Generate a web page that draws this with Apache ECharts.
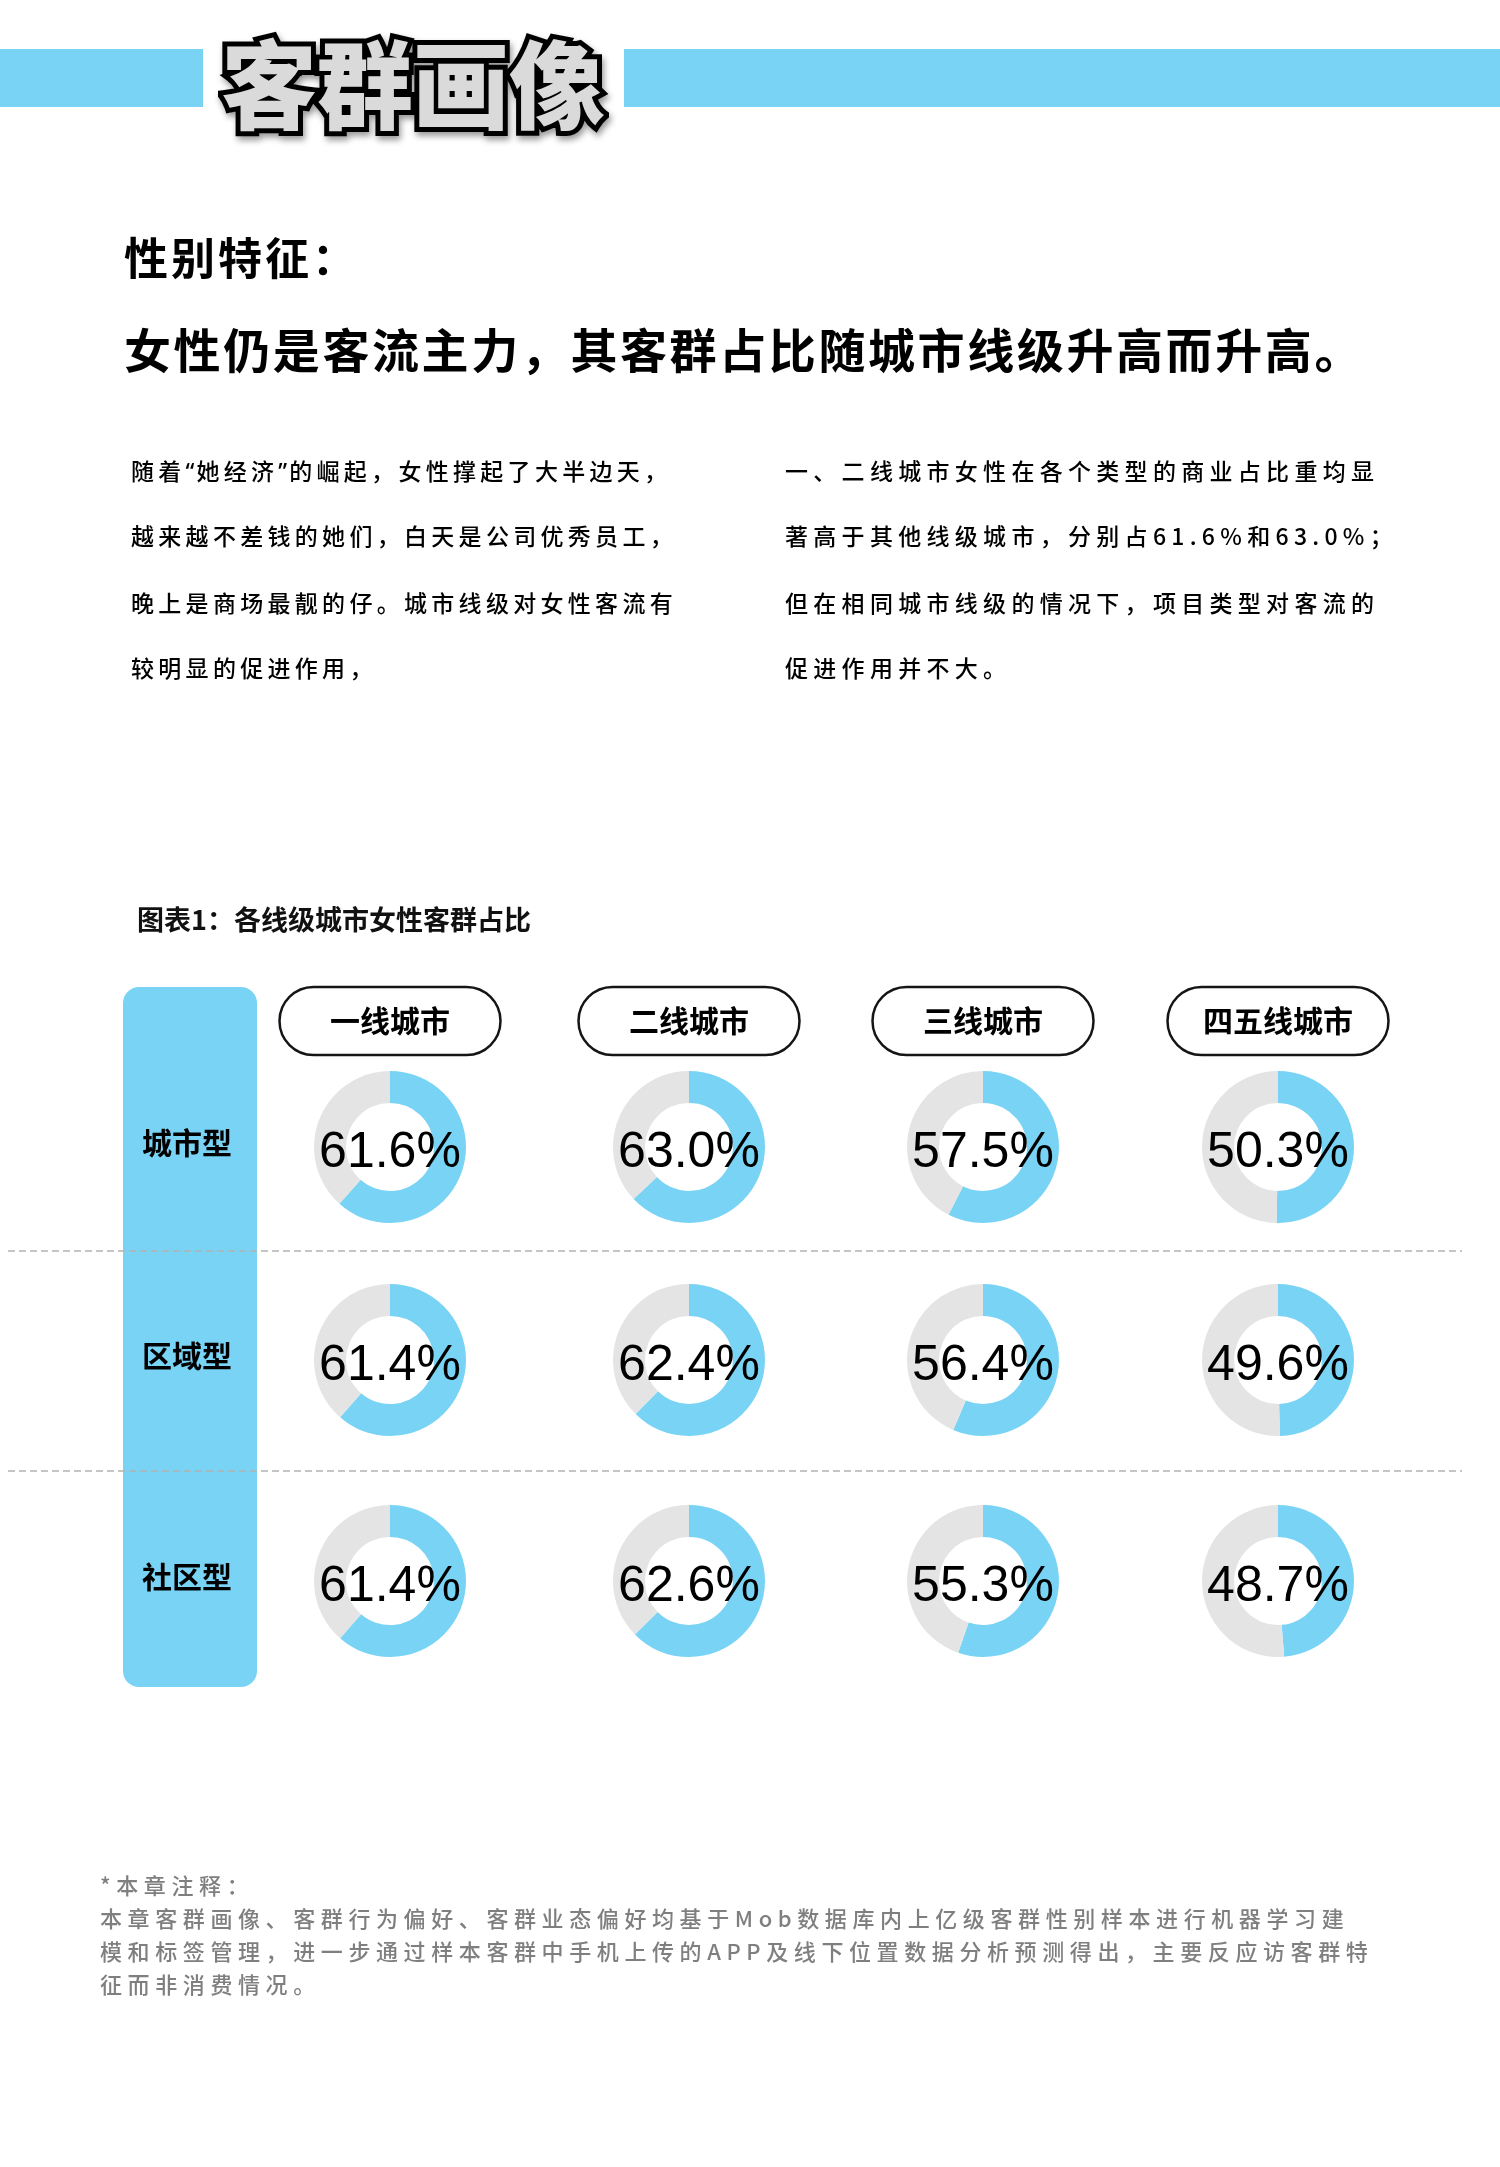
<!DOCTYPE html>
<html>
<head>
<meta charset="utf-8">
<script src="https://cdn.jsdelivr.net/npm/echarts@6/dist/echarts.min.js"></script>
<style>
html,body{margin:0;padding:0;background:#fff;}
#page{position:relative;width:1500px;height:2167px;overflow:hidden;background:#fff;}
#chart{position:absolute;left:0;top:0;width:1500px;height:2167px;z-index:1;}
.t{position:absolute;white-space:nowrap;font-family:"Noto Sans CJK SC","Noto Sans",sans-serif;z-index:2;}
.hdr{font-size:96px;line-height:96px;font-weight:900;left:221px;top:32px;}
.hdr.back{color:#000;-webkit-text-stroke:10px #000;filter:drop-shadow(2px 4px 3px rgba(0,0,0,0.4));}
.hdr.front{color:#dadada;}
.h1{font-size:44px;line-height:44px;font-weight:700;color:#000;letter-spacing:3px;left:124px;top:234px;}
.h2{font-size:47px;line-height:47px;font-weight:700;color:#000;letter-spacing:2.6px;left:124px;top:324px;}
.body{font-size:23px;line-height:23px;font-weight:500;color:#000;}
.bl{letter-spacing:4.3px;}
.br{letter-spacing:5.3px;}
.note{font-size:22px;line-height:22px;font-weight:500;color:#7f7f7f;letter-spacing:5.6px;left:100px;}
.q{font-family:"Noto Sans",sans-serif;letter-spacing:2px;}
</style>
</head>
<body>
<div id="page">
  <div id="chart"></div>
  <div class="t hdr back">客群画像</div>
  <div class="t hdr front">客群画像</div>
  <div class="t h1">性别特征：</div>
  <div class="t h2">女性仍是客流主力，其客群占比随城市线级升高而升高。</div>
  <div id="paras"></div>
  <div id="notes"></div>
</div>
<script>
// ---------- data ----------
const cities = ['一线城市', '二线城市', '三线城市', '四五线城市'];
const types = ['城市型', '区域型', '社区型'];
const cityType = [61.6, 63.0, 57.5, 50.3];
const regionType = [61.4, 62.4, 56.4, 49.6];
const communityType = [61.4, 62.6, 55.3, 48.7];
const chartTitle = '图表1：各线级城市女性客群占比';

const leftLines = [
  '随着“她经济”的崛起，女性撑起了大半边天，',
  '越来越不差钱的她们，白天是公司优秀员工，',
  '晚上是商场最靓的仔。城市线级对女性客流有',
  '较明显的促进作用，'
];
const rightLines = [
  '一、二线城市女性在各个类型的商业占比重均显',
  '著高于其他线级城市，分别占61.6%和63.0%；',
  '但在相同城市线级的情况下，项目类型对客流的',
  '促进作用并不大。'
];
const noteLines = [
  '*本章注释：',
  '本章客群画像、客群行为偏好、客群业态偏好均基于Mob数据库内上亿级客群性别样本进行机器学习建',
  '模和标签管理，进一步通过样本客群中手机上传的APP及线下位置数据分析预测得出，主要反应访客群特',
  '征而非消费情况。'
];

// ---------- layout ----------
const BLUE = '#79D3F5';
const GRAY = '#E4E4E4';
const colX = [390, 689, 983, 1278];
const rowY = [1147, 1360, 1581];
const paraTops = [459, 524, 591, 656];
const noteTops = [1873, 1906, 1939, 1972];

function esc(s) { return s.replace(/&/g, '&amp;').replace(/</g, '&lt;'); }
function markup(s) {
  return esc(s).replace(/([“”])/g, '<span class="q">$1</span>');
}
function addLine(parent, cls, s, left, top) {
  const d = document.createElement('div');
  d.className = 't ' + cls;
  d.innerHTML = markup(s);
  if (left !== null) d.style.left = left + 'px';
  d.style.top = top + 'px';
  parent.appendChild(d);
}
const paras = document.getElementById('paras');
leftLines.forEach((s, i) => addLine(paras, 'body bl', s, 131, paraTops[i]));
rightLines.forEach((s, i) => addLine(paras, 'body br', s, 785, paraTops[i]));
const notes = document.getElementById('notes');
noteLines.forEach((s, i) => addLine(notes, 'note', s, null, noteTops[i]));

// ---------- chart ----------
const chart = echarts.init(document.getElementById('chart'));
const rows = [cityType, regionType, communityType];
const series = [];
rows.forEach((vals, r) => {
  vals.forEach((v, c) => {
    series.push({
      type: 'pie',
      center: [colX[c], rowY[r]],
      radius: [44, 76],
      startAngle: 90,
      clockwise: true,
      silent: true,
      animation: false,
      avoidLabelOverlap: false,
      emphasis: { disabled: true },
      label: { show: false },
      labelLine: { show: false },
      data: [
        {
          value: v,
          name: types[r] + cities[c],
          itemStyle: { color: BLUE },
          label: {
            show: true,
            position: 'center',
            formatter: (p) => '{g|}\n{v|' + p.value.toFixed(1) + '%}',
            rich: {
              g: { height: 12, fontSize: 12 },
              v: { fontSize: 50, fontFamily: '"Liberation Sans", Arial, sans-serif', color: '#000' }
            }
          }
        },
        { value: +(100 - v).toFixed(1), name: '其他', itemStyle: { color: GRAY }, label: { show: false } }
      ]
    });
  });
});

const FONT = '"Noto Sans CJK SC", sans-serif';
const graphic = [
  { type: 'rect', z: 0, shape: { x: 0, y: 49, width: 203, height: 58 }, style: { fill: BLUE } },
  { type: 'rect', z: 0, shape: { x: 624, y: 49, width: 876, height: 58 }, style: { fill: BLUE } },
  { type: 'rect', z: 0, shape: { x: 123, y: 987, width: 134, height: 700, r: 16 }, style: { fill: BLUE } },
  { type: 'line', z: 1, shape: { x1: 8, y1: 1251, x2: 1462, y2: 1251 }, style: { stroke: '#b2b2b2', lineWidth: 1.5, lineDash: [7, 4] } },
  { type: 'line', z: 1, shape: { x1: 8, y1: 1471, x2: 1462, y2: 1471 }, style: { stroke: '#b2b2b2', lineWidth: 1.5, lineDash: [7, 4] } },
  { type: 'text', z: 2, style: { text: chartTitle, x: 137, y: 920, textVerticalAlign: 'middle', fontSize: 27, fontWeight: 'bold', fontFamily: FONT, fill: '#111' } }
];
cities.forEach((name, c) => {
  graphic.push({ type: 'rect', z: 2, shape: { x: colX[c] - 110.5, y: 987, width: 221, height: 68, r: 34 }, style: { fill: '#fff', stroke: '#151515', lineWidth: 2.5 } });
  graphic.push({ type: 'text', z: 3, style: { text: name, x: colX[c], y: 1021, textAlign: 'center', textVerticalAlign: 'middle', fontSize: 30, fontWeight: 'bold', fontFamily: FONT, fill: '#000' } });
});
types.forEach((name, r) => {
  graphic.push({ type: 'text', z: 3, style: { text: name, x: 187, y: rowY[r] - 4, textAlign: 'center', textVerticalAlign: 'middle', fontSize: 30, fontWeight: 'bold', fontFamily: FONT, fill: '#000' } });
});

chart.setOption({
  backgroundColor: 'transparent',
  animation: false,
  graphic: graphic,
  series: series
});
</script>
</body>
</html>
